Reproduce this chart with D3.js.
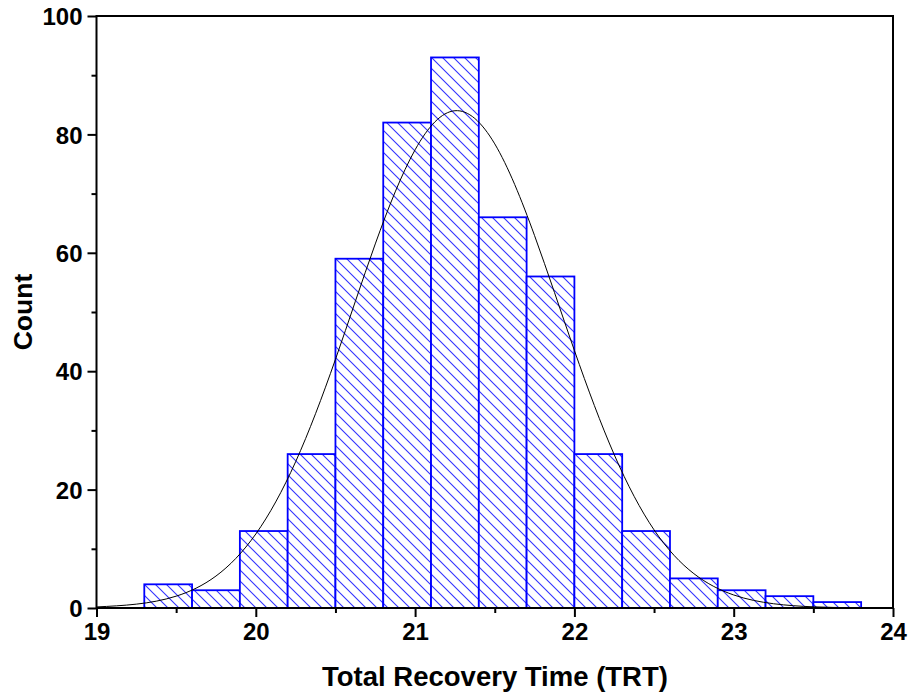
<!DOCTYPE html>
<html><head><meta charset="utf-8">
<script src="https://cdn.jsdelivr.net/npm/d3@7"></script>
<style>body{margin:0;background:#fff}svg{display:block}text{font-family:"Liberation Sans",Arial,sans-serif;font-weight:bold}</style>
</head><body><svg id="c" width="913" height="696"></svg>
<script>
const binStarts = [19.3,19.6,19.9,20.2,20.5,20.8,21.1,21.4,21.7,22.0,22.3,22.6,22.9,23.2,23.5];
const binWidth = 0.3;
const counts = [4,3,13,26,59,82,93,66,56,26,13,5,3,2,1];
const curveX = [19,19.25,19.5,19.75,20,20.25,20.5,20.75,21,21.25,21.5,21.75,22,22.25,22.5,22.75,23,23.25,23.5,23.75,24];
const curveY = [0.18,0.65,2.0,5.4,12.5,24.7,42.0,61.5,77.4,84.0,78.4,62.9,43.5,25.9,13.2,5.8,2.2,0.72,0.2,0.05,0.01];
const xTicks = [19,20,21,22,23,24];
const xMinor = [19.5,20.5,21.5,22.5,23.5];
const yTicks = [0,20,40,60,80,100];
const yMinor = [10,30,50,70,90];

const svg = d3.select("#c");
const L=96.5, R=893, T=16, B=608;
const x = d3.scaleLinear().domain([19,24]).range([L,R]);
const y = d3.scaleLinear().domain([0,100]).range([B,T]);

const defs = svg.append("defs");
const pat = defs.append("pattern").attr("id","hatch").attr("patternUnits","userSpaceOnUse")
  .attr("width",11).attr("height",11);
pat.append("rect").attr("width",11).attr("height",11).attr("fill","#fff");
pat.append("path").attr("d","M-1,-1L12,12M-1,10L1,12M10,-1L12,1").attr("stroke","#3333ff").attr("stroke-width",1.1);

svg.append("g").selectAll("rect").data(binStarts).join("rect")
  .attr("x",(d)=>x(d)).attr("width",(d)=>x(d+binWidth)-x(d))
  .attr("y",(d,i)=>y(counts[i])).attr("height",(d,i)=>y(0)-y(counts[i]))
  .attr("fill","url(#hatch)").attr("stroke","#0000ff").attr("stroke-width",1.8);

const line = d3.line().x((d)=>x(d)).y((d,i)=>y(curveY[i])).curve(d3.curveNatural);
svg.append("path").datum(curveX).attr("d",line).attr("fill","none").attr("stroke","#000").attr("stroke-width",1);

// frame
svg.append("rect").attr("x",L).attr("y",T).attr("width",R-L).attr("height",B-T)
  .attr("fill","none").attr("stroke","#000").attr("stroke-width",2);

// axes
const xa = svg.append("g").attr("transform",`translate(0,${B})`)
  .call(d3.axisBottom(x).tickValues(xTicks).tickFormat(d3.format("d")).tickSize(9).tickPadding(6));
const xm = svg.append("g").attr("transform",`translate(0,${B})`)
  .call(d3.axisBottom(x).tickValues(xMinor).tickFormat("").tickSize(5));
const ya = svg.append("g").attr("transform",`translate(${L},0)`)
  .call(d3.axisLeft(y).tickValues(yTicks).tickFormat(d3.format("d")).tickSize(9).tickPadding(5));
const ym = svg.append("g").attr("transform",`translate(${L},0)`)
  .call(d3.axisLeft(y).tickValues(yMinor).tickFormat("").tickSize(5));
[xa,xm,ya,ym].forEach(g=>{
  g.select(".domain").remove();
  g.selectAll("line").attr("stroke","#000").attr("stroke-width",2);
  g.selectAll("text").attr("fill","#000").style("font-size","24px").style("font-weight","bold");
});
ya.selectAll("text").attr("dy","0.36em");
xa.selectAll("text").attr("dy","0.72em");

svg.append("text").attr("x",495).attr("y",686).attr("text-anchor","middle")
  .style("font-size","27.5px").text("Total Recovery Time (TRT)");
svg.append("text").attr("transform",`translate(32,${312}) rotate(-90)`).attr("text-anchor","middle")
  .style("font-size","26.5px").text("Count");
</script></body></html>
